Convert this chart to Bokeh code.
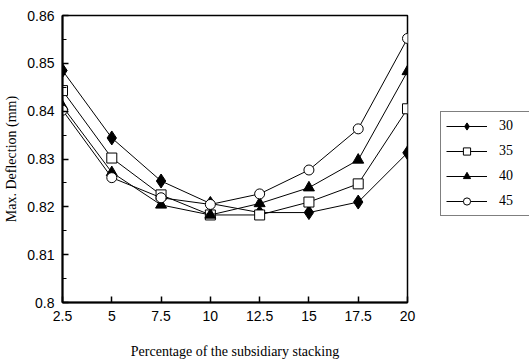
from bokeh.plotting import figure
from bokeh.layouts import row
from bokeh.models import (Range1d, FixedTicker, CustomJSTickFormatter, Legend, LegendItem)
from bokeh.embed import file_html
from bokeh.resources import INLINE

x_vals = [2.5, 5, 7.5, 10, 12.5, 15, 17.5, 20]
s30 = [0.8485, 0.8344, 0.8254, 0.8207, 0.8188, 0.8188, 0.8210, 0.8313]
s35 = [0.8443, 0.8302, 0.8225, 0.8183, 0.8183, 0.8210, 0.8248, 0.8405]
s40 = [0.8410, 0.8272, 0.8204, 0.8183, 0.8207, 0.8240, 0.8298, 0.8483]
s45 = [0.8402, 0.8261, 0.8219, 0.8205, 0.8227, 0.8277, 0.8363, 0.8552]
series_labels = ["30", "35", "40", "45"]
x_ticks = [2.5, 5, 7.5, 10, 12.5, 15, 17.5, 20]
y_ticks = [0.80, 0.81, 0.82, 0.83, 0.84, 0.85, 0.86]
y_minor = [0.805, 0.815, 0.825, 0.835, 0.845, 0.855]

p = figure(width=430, height=363, output_backend="svg", toolbar_location=None,
           x_range=Range1d(2.5, 20), y_range=Range1d(0.80, 0.86),
           min_border_left=62, min_border_right=23, min_border_top=15,
           min_border_bottom=61)
p.background_fill_color = "white"
p.border_fill_color = "white"
p.xgrid.visible = False
p.ygrid.visible = False
p.outline_line_color = "black"
p.outline_line_width = 1.5

p.xaxis.ticker = FixedTicker(ticks=x_ticks)
p.yaxis.ticker = FixedTicker(ticks=y_ticks, minor_ticks=y_minor)
p.xaxis.formatter = CustomJSTickFormatter(code="return String(tick);")
p.yaxis.formatter = CustomJSTickFormatter(code="return String(Math.round(tick*100)/100);")

for ax in (p.xaxis[0], p.yaxis[0]):
    ax.axis_line_color = "black"
    ax.axis_line_width = 2
    ax.major_tick_in = 6
    ax.major_tick_out = 0
    ax.major_tick_line_color = "black"
    ax.major_tick_line_width = 1.5
    ax.minor_tick_in = 4
    ax.minor_tick_out = 0
    ax.minor_tick_line_color = "black"
    ax.major_label_text_font = "Liberation Sans"
    ax.major_label_text_font_size = "14px"
    ax.major_label_text_color = "black"
    ax.major_label_standoff = 8
    ax.axis_label_text_font = "Liberation Serif"
    ax.axis_label_text_font_size = "14px"
    ax.axis_label_text_font_style = "normal"
    ax.axis_label_text_color = "black"
p.xaxis.minor_tick_line_color = None
p.xaxis.axis_label = "Percentage of the subsidiary stacking"
p.yaxis.axis_label = "Max. Deflection (mm)"
p.xaxis.axis_label_standoff = 20
p.yaxis.axis_label_standoff = 5

# legend panel (its renderers lie outside its own ranges, only the legend shows)
q = figure(width=99, height=363, output_backend="svg", toolbar_location=None,
           x_range=Range1d(100, 101), y_range=Range1d(100, 101),
           min_border_left=0, min_border_right=0, min_border_top=0,
           min_border_bottom=0)
q.axis.visible = False
q.xgrid.visible = False
q.ygrid.visible = False
q.outline_line_color = None
q.background_fill_color = "white"
q.border_fill_color = "white"

items = []
specs = [
    (s30, "diamond", 14, "black"),
    (s35, "square", 10, "white"),
    (s40, "triangle", 11, "black"),
    (s45, "circle", 10, "white"),
]
for (vals, marker, size, fill), lab in zip(specs, series_labels):
    p.line(x_vals, vals, line_color="black", line_width=1)
    p.scatter(x_vals, vals, marker=marker, size=size, fill_color=fill,
              line_color="black", line_width=1)
    lr = q.line(x_vals, vals, line_color="black", line_width=1)
    sr = q.scatter(x_vals, vals, marker=marker, size=size, fill_color=fill,
                   line_color="black", line_width=1)
    items.append(LegendItem(label=lab, renderers=[lr, sr]))

legend = Legend(items=items, location=(10, 86))
legend.border_line_color = "black"
legend.border_line_width = 1
legend.background_fill_color = "white"
legend.background_fill_alpha = 1
legend.label_text_font = "Liberation Serif"
legend.label_text_font_size = "14px"
legend.label_text_color = "black"
legend.glyph_width = 41
legend.glyph_height = 18
legend.label_standoff = 12
legend.label_width = 25
legend.spacing = 7
legend.padding = 5
legend.margin = 0
q.add_layout(legend, "center")

layout = row(p, q)
open("out.html", "w").write(file_html(layout, INLINE))
